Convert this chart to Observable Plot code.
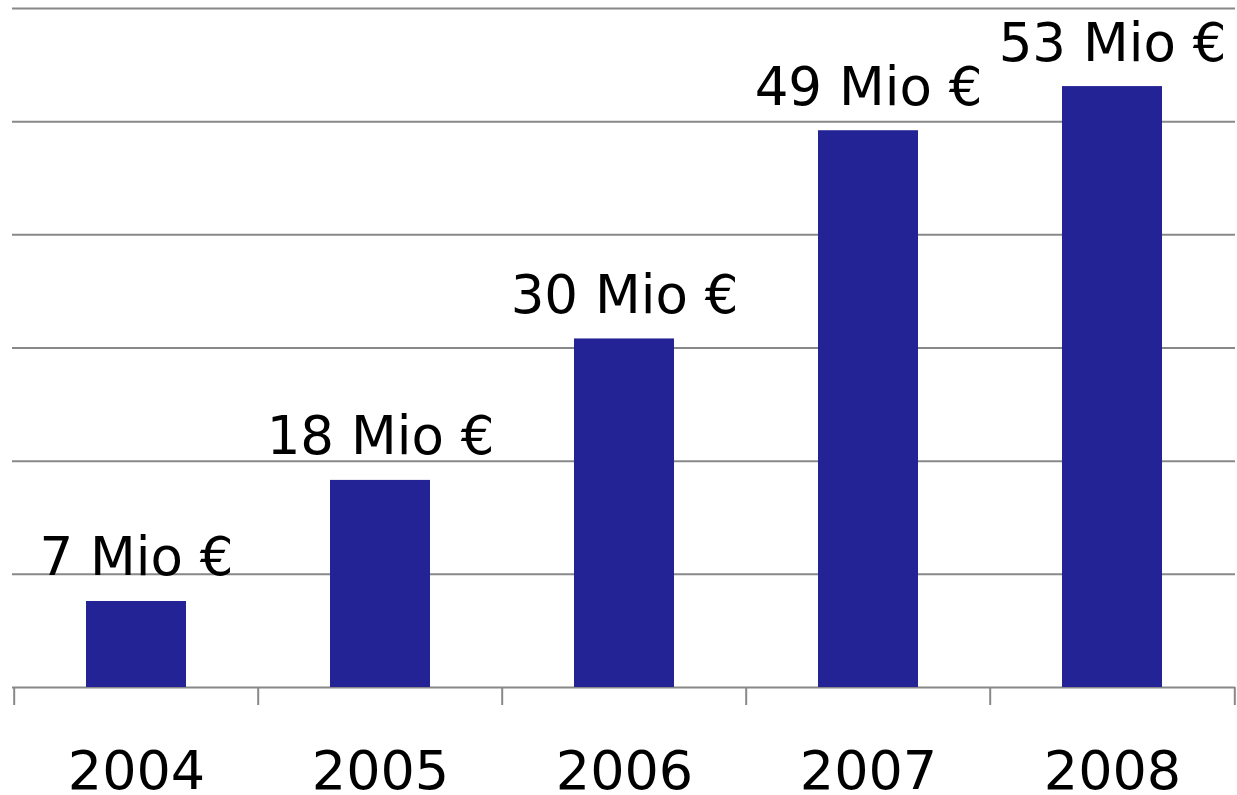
<!DOCTYPE html>
<html>
<head>
<meta charset="utf-8">
<script src="https://cdn.jsdelivr.net/npm/d3@7"></script>
<script src="https://cdn.jsdelivr.net/npm/@observablehq/plot@0.6"></script>
<style>
  html, body { margin: 0; padding: 0; background: #fff; }
  #chart svg { display: block; }
</style>
</head>
<body>
<div id="chart"></div>
<script>
const years = ["2004", "2005", "2006", "2007", "2008"];
const values = [7.6, 18.3, 30.8, 49.2, 53.1];
const labels = ["7 Mio €", "18 Mio €", "30 Mio €", "49 Mio €", "53 Mio €"];
const gridTicks = [0, 10, 20, 30, 40, 50, 60];

const data = years.map((y, i) => ({year: y, value: values[i], label: labels[i]}));

const W = 1237, H = 795;
const mL = 12, mR = 2, mT = 8, mB = 108;
const bw = (W - mL - mR) / years.length;
const font = "DejaVu Sans, Verdana, sans-serif";

const chart = Plot.plot({
  width: W,
  height: H,
  marginLeft: mL,
  marginRight: mR,
  marginTop: mT,
  marginBottom: mB,
  style: {fontFamily: font, background: "#fff"},
  x: {domain: years, padding: 0, axis: null, label: null},
  y: {domain: [0, 60], axis: null},
  marks: [
    Plot.ruleY(gridTicks, {stroke: "#888", strokeWidth: 2}),
    Plot.barY(data, {x: "year", y: "value", fill: "#232396", insetLeft: 72, insetRight: 72}),
    Plot.axisX(years, {tickSize: 18, text: null, label: null, stroke: "#888", strokeWidth: 2, dx: -bw / 2}),
    Plot.axisX([years[years.length - 1]], {tickSize: 18, text: null, label: null, stroke: "#888", strokeWidth: 2, dx: bw / 2}),
    Plot.axisX(years, {tickSize: 0, tickPadding: 63, label: null, fontSize: 54, fill: "#000", fontFamily: font}),
    Plot.text(data, {x: "year", y: "value", text: "label", lineAnchor: "bottom", dy: -26, fontSize: 53, fill: "#000", fontFamily: font})
  ]
});
document.getElementById("chart").appendChild(chart);
</script>
</body>
</html>
